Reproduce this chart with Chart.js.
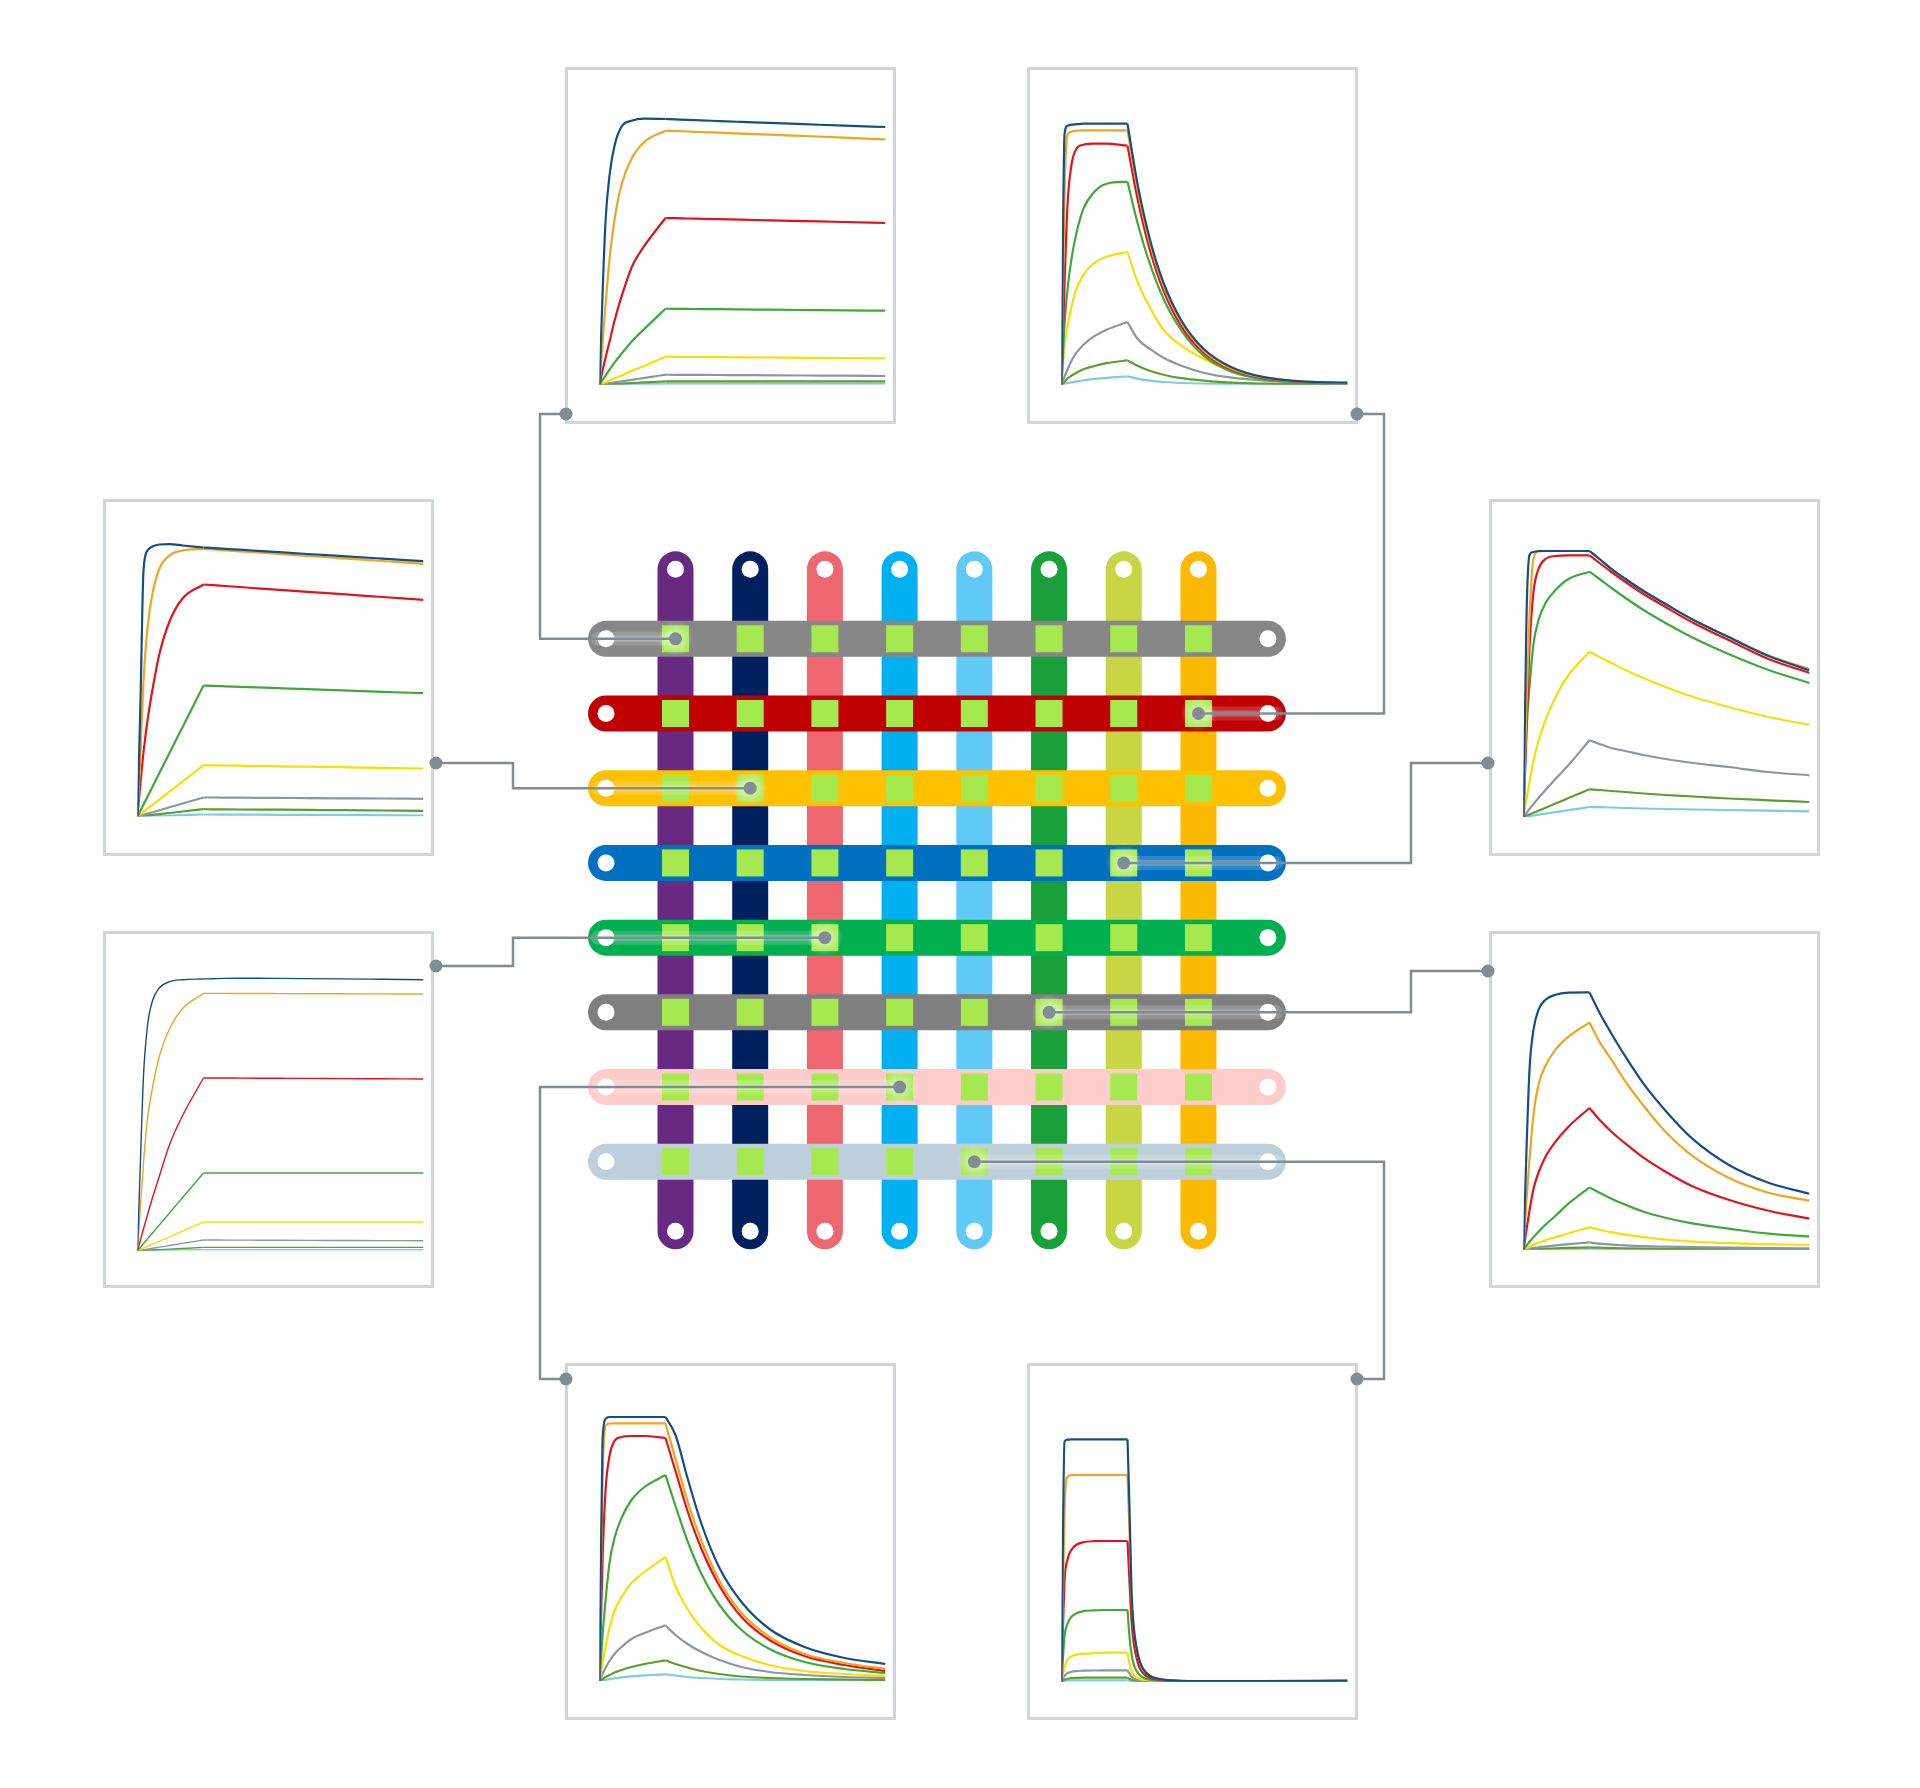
<!DOCTYPE html>
<html>
<head>
<meta charset="utf-8">
<title>Binding grid</title>
<script src="https://cdn.jsdelivr.net/npm/chart.js@4.4.0/dist/chart.umd.min.js"></script>
<style>
  html, body { margin: 0; padding: 0; background: #fff; overflow: hidden; }
  #page { position: relative; width: 1920px; height: 1788px; }
  .panel { position: absolute; width: 331px; height: 357px; box-sizing: border-box; border: 3px solid #cdd6dd; background: #fff; }
  .panel canvas { display: block; }
  #grid { position: absolute; left: 0; top: 0; pointer-events: none; }
</style>
</head>
<body>
<div id="page">
  <canvas id="grid" width="1920" height="1788"></canvas>
</div>
<script>
// time points (s): association phase, dissociation phase
const tOn = [0, 3, 6, 10, 15, 22, 32, 45, 66];
const tOff = [66, 76, 88, 102, 120, 142, 170, 205, 245, 286];
const tOffFast = [66, 68, 70, 72, 75, 78, 82, 88, 100, 130, 200, 286];

// analyte concentrations, high to low
const curveColors = ['#124e89', '#f7a21b', '#e3121b', '#3bab37', '#ffdc00', '#8997a3', '#5c9f2b', '#7ccde0'];

// response (RU) per concentration - top left
const tlOn = [
  [0, 89, 163, 209, 239, 258, 264, 266, 265.7],
  [0, 40, 80, 125, 165, 200, 226, 243, 254],
  [0, 14, 27, 43, 64, 88, 117, 139, 166.7],
  [0, 4.5, 9, 15, 22, 31, 43, 56, 76],
  [0, 1.3, 2.5, 4.2, 6.4, 9.3, 13.6, 19, 28],
  [0, 0.5, 0.9, 1.5, 2.3, 3.3, 4.8, 6.8, 10],
  [0, 0.2, 0.3, 0.5, 0.8, 1.1, 1.6, 2.3, 3.3],
  [0, 0, 0.1, 0.2, 0.2, 0.3, 0.5, 0.7, 1]
];
const tlOff = [
  [265.7, 265.3, 264.8, 264.3, 263.6, 262.8, 261.8, 260.5, 259, 257.7],
  [254, 253.7, 253.2, 252.7, 252, 251.1, 250.1, 248.7, 247.1, 245.3],
  [166.7, 166.5, 166.2, 165.9, 165.5, 165, 164.4, 163.6, 162.7, 161.7],
  [76, 75.9, 75.8, 75.6, 75.5, 75.3, 75, 74.7, 74.4, 74],
  [28, 27.9, 27.8, 27.7, 27.5, 27.4, 27.2, 26.9, 26.6, 26.3],
  [10, 9.9, 9.9, 9.8, 9.7, 9.6, 9.4, 9.2, 9, 8.7],
  [3.3, 3.3, 3.3, 3.3, 3.3, 3.3, 3.3, 3.3, 3.3, 3.3],
  [1, 1, 1, 1, 1, 1, 1, 1, 1, 1]
];

// top right
const trOn = [
  [0, 250, 259, 260, 260.5, 261, 261, 261, 261],
  [0, 190, 250, 253, 254, 254.3, 254.3, 254.3, 254.3],
  [0, 100, 180, 220, 236, 240, 241, 241, 239],
  [0, 60, 95, 126, 152, 176, 192, 201, 203],
  [0, 38, 58, 78, 96, 110, 121, 128, 132.7],
  [0, 8, 15, 24, 32, 40, 48, 55, 62.7],
  [0, 3, 6, 9, 12, 15.5, 18.5, 21.5, 24.3],
  [0, 0.8, 1.5, 2.3, 3.3, 4.3, 5.5, 6.8, 8.3]
];
const trOff = [
  [261, 201, 147, 102, 64, 36, 17.5, 7, 3, 2],
  [254.3, 196, 143, 99, 62, 34, 16, 6.5, 2.7, 1.7],
  [239, 186, 136, 94, 58, 32, 15, 6, 2.5, 1.5],
  [203, 162, 122, 86, 54, 29, 13, 5, 2, 1.5],
  [132.7, 103, 78, 55, 39, 26, 14, 7, 3, 1.5],
  [62.7, 46, 36, 27, 19, 12, 7, 4, 2, 1],
  [24.3, 19, 14, 10, 6.5, 4, 2, 1, 0.5, 0.3],
  [8.3, 6, 4, 2.7, 1.7, 1, 0.5, 0.3, 0.2, 0.2]
];

// left, upper
const luOn = [
  [0, 116, 246, 266, 270, 272, 272.3, 271, 269],
  [0, 63, 136, 189, 223, 248, 261, 266, 267.7],
  [0, 34, 64, 96, 127, 163, 195, 218, 232],
  [0, 6, 11.9, 19.8, 29.8, 43.7, 63.5, 89.3, 131],
  [0, 2.3, 4.7, 7.8, 11.7, 17.1, 24.9, 35, 51.3],
  [0, 0.9, 1.7, 2.9, 4.3, 6.3, 9.2, 13, 19],
  [0, 0.3, 0.7, 1.1, 1.7, 2.4, 3.5, 5, 7.3],
  [0, 0.1, 0.2, 0.3, 0.5, 0.7, 1, 1.4, 2]
];
const luOff = [
  [269, 268.4, 267.7, 266.8, 265.7, 264.3, 262.5, 260.4, 257.9, 255.3],
  [267.7, 267, 266.2, 265.2, 264, 262.5, 260.6, 258.2, 255.5, 252.7],
  [232, 231.3, 230.5, 229.5, 228.2, 226.7, 224.7, 222.3, 219.5, 216.7],
  [131, 130.6, 130.2, 129.7, 129.1, 128.3, 127.3, 126.1, 124.7, 123.3],
  [51.3, 51.2, 51, 50.8, 50.5, 50.2, 49.8, 49.3, 48.7, 48],
  [19, 19, 18.9, 18.8, 18.7, 18.6, 18.4, 18.2, 18, 17.7],
  [7.3, 7.2, 7.1, 7, 6.9, 6.8, 6.6, 6.3, 6, 5.7],
  [2, 2, 1.9, 1.9, 1.8, 1.7, 1.6, 1.4, 1.2, 1]
];

// left, lower
const llOn = [
  [0, 92, 175, 225, 250, 263, 269, 271, 271.7],
  [0, 45, 88, 132, 163, 195, 222, 242, 257.3],
  [0, 11, 22, 36, 53, 75, 106, 135, 172.7],
  [0, 3.5, 7.1, 11.8, 17.7, 25.9, 37.7, 53, 77.7],
  [0, 1.3, 2.6, 4.3, 6.5, 9.6, 13.9, 19.6, 28.7],
  [0, 0.5, 1, 1.6, 2.4, 3.6, 5.2, 7.3, 10.7],
  [0, 0.15, 0.3, 0.5, 0.75, 1.1, 1.6, 2.25, 3.3],
  [0, 0, 0.1, 0.15, 0.2, 0.3, 0.5, 0.7, 1]
];
const llOff = [
  [271.7, 272, 272.3, 272.4, 272.4, 272.3, 272.1, 271.8, 271.4, 271],
  [257.3, 257.3, 257.3, 257.2, 257.2, 257.1, 257, 256.9, 256.8, 256.7],
  [172.7, 172.7, 172.7, 172.6, 172.5, 172.4, 172.3, 172.1, 171.9, 171.7],
  [77.7, 77.7, 77.7, 77.7, 77.7, 77.7, 77.7, 77.7, 77.7, 77.7],
  [28.7, 28.7, 28.7, 28.7, 28.7, 28.7, 28.7, 28.7, 28.7, 28.7],
  [10.7, 10.7, 10.6, 10.6, 10.5, 10.4, 10.3, 10.2, 10.1, 10],
  [3.3, 3.3, 3.3, 3.3, 3.3, 3.3, 3.3, 3.3, 3.3, 3.3],
  [1, 1, 1, 1, 1, 1, 1, 1, 1, 1]
];

// right, upper
const ruOn = [
  [0, 200, 262, 265, 266, 266, 266, 266, 266],
  [0, 110, 200, 258, 265.5, 266, 266, 266, 266],
  [0, 90, 170, 225, 248, 258, 261, 261.7, 261.7],
  [0, 85, 130, 173, 197, 214, 227, 238, 245.3],
  [0, 18, 35, 56, 76, 97, 120, 142, 165.3],
  [0, 4, 8, 13, 19, 27, 38, 52, 76.7],
  [0, 1.3, 2.5, 4.2, 6.3, 9.2, 13.4, 18.9, 27.7],
  [0, 0.5, 0.9, 1.5, 2.3, 3.3, 4.8, 6.8, 10]
];
const ruOff = [
  [266, 258, 248, 238, 226, 213, 197, 180, 161, 146.7],
  [266, 258, 248, 238, 226, 213, 197, 180, 161.5, 148],
  [261.7, 254, 245, 235, 223, 210, 194, 177, 158, 144],
  [245.3, 238, 229, 219, 207, 194, 179, 163, 147, 134],
  [165.3, 160, 154, 147, 139, 130, 120, 110, 100, 92.3],
  [76.7, 73, 69, 66, 62, 58, 54, 50, 45, 41.7],
  [27.7, 27, 26, 25, 23.5, 22, 20.5, 18.5, 16.7, 15],
  [10, 9.8, 9.5, 9, 8.5, 8, 7.5, 7, 6.3, 5.7]
];

// right, lower
const rlOn = [
  [0, 100, 180, 220, 240, 250, 255, 257, 257.3],
  [0, 50, 90, 135, 165, 184, 200, 213, 227.3],
  [0, 20, 39, 61, 77, 93, 108, 123, 141.7],
  [0, 4, 8, 12.5, 18, 25, 34, 46, 62.3],
  [0, 1.5, 3, 5, 7, 9.5, 12.5, 16.5, 22.3],
  [0, 0.6, 1.1, 1.7, 2.4, 3.2, 4.3, 5.5, 7.3],
  [0, 0.2, 0.4, 0.6, 0.8, 1, 1.4, 1.8, 2.3],
  [0, 0.1, 0.1, 0.2, 0.2, 0.3, 0.3, 0.4, 0.5]
];
const rlOff = [
  [257.3, 237, 216, 193, 166, 139, 110, 85, 67, 56],
  [227.3, 208, 190, 168, 144, 118, 93, 72, 57, 49],
  [141.7, 130, 118, 106, 92, 78, 63, 50, 39, 31],
  [62.3, 57, 51, 45, 38, 32, 26, 21, 16, 13.3],
  [22.3, 20, 17.5, 15, 12.5, 10, 8, 6.5, 5.5, 4.7],
  [7.3, 6, 5, 4.3, 3.5, 3, 2.5, 2, 1.7, 1.3],
  [2.3, 2, 1.6, 1.3, 1, 0.8, 0.6, 0.5, 0.5, 0.5],
  [0.5, 0.5, 0.5, 0.5, 0.5, 0.5, 0.5, 0.5, 0.5, 0.5]
];

// bottom left
const blOn = [
  [0, 240, 262, 264, 264, 264, 264, 264, 264],
  [0, 200, 255, 257.5, 257.7, 257.7, 257.7, 257.7, 257.7],
  [0, 120, 190, 225, 240, 244, 245, 245, 243],
  [0, 45, 80, 118, 143, 163, 181, 194, 206],
  [0, 18, 34, 53, 70, 84, 98, 109, 124],
  [0, 7, 13, 20, 27, 34, 42, 48, 55.7],
  [0, 2, 4, 6, 8.5, 11, 14, 17, 20.7],
  [0, 0.6, 1.2, 1.9, 2.7, 3.6, 4.6, 5.6, 6.7]
];
const blOff = [
  [264, 246, 203, 157, 113, 79, 52, 34, 23, 17],
  [257.7, 222, 180, 140, 100, 68, 44, 27, 18, 12],
  [243, 210, 170, 132, 95, 64, 41, 25, 16, 10],
  [206, 175, 140, 107, 76, 51, 32, 19, 12, 8],
  [124, 95, 72, 53, 36, 25, 16, 10, 7, 5],
  [55.7, 46, 37, 29, 21, 14, 9, 6, 4, 3],
  [20.7, 17, 13.5, 10, 7, 4.5, 3, 2, 1.5, 1],
  [6.7, 5.5, 4, 3, 2, 1.5, 1, 0.7, 0.5, 0.5]
];

// bottom right (fast off-rate, uses tOffFast)
const brOn = [
  [0, 240, 242, 242.3, 242.3, 242.3, 242.3, 242.3, 242.3],
  [0, 170, 205, 206.5, 206.7, 206.7, 206.7, 206.7, 206.7],
  [0, 100, 122, 132, 137, 139.5, 140.5, 140.7, 140.7],
  [0, 45, 58, 65, 68.5, 70.5, 71.3, 71.7, 71.7],
  [0, 15, 22, 25.5, 27, 28, 28.5, 29, 29],
  [0, 6, 8.5, 10, 10.7, 11, 11.2, 11.3, 11.3],
  [0, 2, 3, 3.5, 3.8, 4, 4, 4, 4],
  [0, 0.7, 1, 1.2, 1.3, 1.3, 1.3, 1.3, 1.3]
];
const brOff = [
  [242.3, 174, 91, 57, 34, 21, 12, 6, 2.3, 0.7, 0.5, 1],
  [206.7, 150, 88, 56, 34, 21, 12.5, 6, 2.3, 0.7, 0.5, 1],
  [140.7, 100, 62, 40, 24, 14, 8, 4, 1.5, 0.5, 0.3, 0.7],
  [71.7, 45, 28, 18, 11, 7, 4, 2, 0.8, 0.3, 0.3, 0.5],
  [29, 18, 11, 7, 4.5, 3, 2, 1, 0.5, 0.3, 0.3, 1],
  [11.3, 8, 5, 3.3, 2, 1.3, 0.8, 0.5, 0.3, 0.2, 0.2, 0.3],
  [4, 2.8, 1.8, 1.2, 0.8, 0.5, 0.3, 0.2, 0.1, 0.1, 0.1, 0.2],
  [1.3, 1, 0.7, 0.5, 0.3, 0.2, 0.2, 0.1, 0.1, 0.1, 0.1, 0.3]
];

// chip grid: 8 ligand channels (columns) x 8 analyte rows
const colColors = ['#672a80', '#002060', '#ee6670', '#00b0f0', '#5fcaf7', '#1aa03a', '#c8d544', '#fbb900'];
const rowColors = ['#878787', '#c00000', '#ffc000', '#0070c0', '#00b050', '#7f7f7f', '#ffcccc', '#bdcfda'];
// spot shown in each sensorgram panel (row, column)
const linkRows = [1, 2, 3, 4, 5, 6, 7, 8];
const linkCols = [1, 8, 2, 7, 3, 6, 4, 5];

// panel layout: outer box, baseline (from box top), anchor dot and elbow x of its connector
const panels = [
  { left: 565, top: 67, base: 317.7, on: tlOn, off: tlOff, tOff: tOff, lw: 2.2, anchor: [566, 414, 540] },
  { left: 1027, top: 67, base: 317.7, on: trOn, off: trOff, tOff: tOff, lw: 2.2, anchor: [1357, 414, 1384] },
  { left: 103, top: 499, base: 317.5, on: luOn, off: luOff, tOff: tOff, lw: 2.2, anchor: [436, 763, 513] },
  { left: 1489, top: 499, base: 318, on: ruOn, off: ruOff, tOff: tOff, lw: 2.2, anchor: [1488, 763, 1411] },
  { left: 103, top: 931, base: 319.7, on: llOn, off: llOff, tOff: tOff, lw: 1.4, anchor: [436, 966, 513] },
  { left: 1489, top: 931, base: 318.7, on: rlOn, off: rlOff, tOff: tOff, lw: 2.2, anchor: [1488, 971, 1411] },
  { left: 565, top: 1363, base: 318, on: blOn, off: blOff, tOff: tOff, lw: 2.2, anchor: [566, 1379, 540] },
  { left: 1027, top: 1363, base: 318.7, on: brOn, off: brOff, tOff: tOffFast, lw: 2.2, anchor: [1357, 1379, 1384] }
];

const page = document.getElementById('page');

panels.forEach(p => {
  const div = document.createElement('div');
  div.className = 'panel';
  div.style.left = p.left + 'px';
  div.style.top = p.top + 'px';
  const canvas = document.createElement('canvas');
  canvas.width = 325;
  canvas.height = 351;
  div.appendChild(canvas);
  page.insertBefore(div, document.getElementById('grid'));

  const datasets = [];
  curveColors.forEach((color, i) => {
    const common = { borderColor: color, borderWidth: p.lw, pointRadius: 0, cubicInterpolationMode: 'monotone', order: i };
    datasets.push({ ...common, data: tOn.map((t, j) => ({ x: t, y: p.on[i][j] })) });
    datasets.push({ ...common, data: p.tOff.map((t, j) => ({ x: t, y: p.off[i][j] })) });
  });

  const base = p.base - 3;
  new Chart(canvas, {
    type: 'line',
    data: { datasets },
    options: {
      responsive: false,
      animation: false,
      events: [],
      layout: { autoPadding: false, padding: { left: 31.5, right: 7.5, top: base - 300, bottom: 351 - base } },
      scales: {
        x: { type: 'linear', min: 0, max: 286, display: false },
        y: { type: 'linear', min: 0, max: 300, display: false }
      },
      plugins: { legend: { display: false }, tooltip: { enabled: false } }
    }
  });
});

// grid -------------------------------------------------------------
const barStart = 0.07, barEnd = 8.93;
const datasets = [];
colColors.forEach((color, i) => {
  datasets.push({ data: [{ x: i + 1, y: barStart }, { x: i + 1, y: barEnd }], showLine: true, borderColor: color,
    borderWidth: 36, borderCapStyle: 'round', pointRadius: 0, order: 10 });
});
rowColors.forEach((color, i) => {
  datasets.push({ data: [{ x: barStart, y: i + 1 }, { x: barEnd, y: i + 1 }], showLine: true, borderColor: color,
    borderWidth: 36, borderCapStyle: 'round', pointRadius: 0, order: 9 });
});
const spots = [];
rowColors.forEach((_, r) => colColors.forEach((_, c) => spots.push({ x: c + 1, y: r + 1 })));
datasets.push({ data: spots, pointStyle: 'rect', pointRadius: 19.1, backgroundColor: '#a6e94f', borderWidth: 0, order: 8 });
const holes = [];
colColors.forEach((_, i) => holes.push({ x: i + 1, y: barStart }, { x: i + 1, y: barEnd }));
rowColors.forEach((_, i) => holes.push({ x: barStart, y: i + 1 }, { x: barEnd, y: i + 1 }));
datasets.push({ data: holes, pointStyle: 'circle', pointRadius: 8.5, backgroundColor: '#ffffff', borderWidth: 0, order: 7 });

const linkPlugin = {
  id: 'links',
  afterDatasetsDraw(chart) {
    const { ctx, scales: { x, y } } = chart;
    ctx.save();
    linkRows.forEach((row, i) => {
      const [ax, ay, ex] = panels[i].anchor;
      const px = x.getPixelForValue(linkCols[i]);
      const py = y.getPixelForValue(row);
      const endX = x.getPixelForValue(ex < px ? barStart : barEnd) + (ex < px ? -8 : 8);
      // highlight along the bar toward the panel
      ctx.lineCap = 'round';
      ctx.beginPath(); ctx.moveTo(endX, py); ctx.lineTo(px, py);
      ctx.strokeStyle = 'rgba(255,255,255,0.16)'; ctx.lineWidth = 14; ctx.stroke();
      ctx.strokeStyle = 'rgba(255,255,255,0.22)'; ctx.lineWidth = 6; ctx.stroke();
      const g = ctx.createRadialGradient(px, py, 0, px, py, 18);
      g.addColorStop(0, 'rgba(255,255,255,0.6)');
      g.addColorStop(1, 'rgba(255,255,255,0)');
      ctx.fillStyle = g;
      ctx.fillRect(px - 18, py - 18, 36, 36);
      // connector
      ctx.lineCap = 'butt'; ctx.lineJoin = 'miter';
      ctx.strokeStyle = '#7f8d97'; ctx.lineWidth = 2.5;
      ctx.beginPath(); ctx.moveTo(ax, ay); ctx.lineTo(ex, ay); ctx.lineTo(ex, py); ctx.lineTo(px, py); ctx.stroke();
      ctx.fillStyle = '#7f8d97';
      [[ax, ay], [px, py]].forEach(([cx, cy]) => { ctx.beginPath(); ctx.arc(cx, cy, 6.5, 0, Math.PI * 2); ctx.fill(); });
    });
    ctx.restore();
  }
};

new Chart(document.getElementById('grid'), {
  type: 'scatter',
  data: { datasets },
  options: {
    responsive: false,
    animation: false,
    events: [],
    layout: { autoPadding: false, padding: 0 },
    scales: {
      x: { type: 'linear', min: -8.0416, max: 17.658, display: false },
      y: { type: 'linear', reverse: true, min: -7.55, max: 16.382, display: false }
    },
    plugins: { legend: { display: false }, tooltip: { enabled: false } }
  },
  plugins: [linkPlugin]
});
</script>
</body>
</html>
